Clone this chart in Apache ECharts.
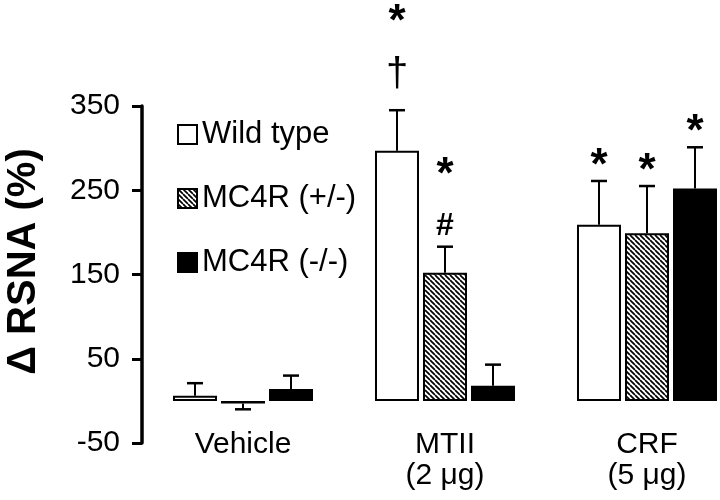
<!DOCTYPE html>
<html>
<head>
<meta charset="utf-8">
<script src="https://cdn.jsdelivr.net/npm/echarts@6/dist/echarts.min.js"></script>
<style>html,body{margin:0;padding:0;background:#fff;}#c{width:720px;height:500px;}</style>
</head>
<body>
<div id="c"></div>
<script>
var categories = ['Vehicle', 'MTII\n(2 μg)', 'CRF\n(5 μg)'];
var seriesNames = ['Wild type', 'MC4R (+/-)', 'MC4R (-/-)'];
var wildType = [6, 297, 209];
var wildTypeErr = [21, 345, 261];
var het = [-3, 152, 199];
var hetErr = [-10, 183, 255];
var ko = [14, 18, 252];
var koErr = [30, 43, 301];
// annotation symbols, listed from nearest the error bar upward
var wildTypeMarks = [[], ['†', '*'], ['*']];
var hetMarks = [[], ['#', '*'], ['*']];
var koMarks = [[], [], ['*']];
var yTicks = [-50, 50, 150, 250, 350];

function hatch() {
  var n = 5;
  var cv = document.createElement('canvas');
  cv.width = n; cv.height = n;
  var ctx = cv.getContext('2d');
  ctx.fillStyle = '#fff';
  ctx.fillRect(0, 0, n, n);
  ctx.strokeStyle = '#000';
  ctx.lineWidth = 1.7;
  [-n, 0, n].forEach(function (o) {
    ctx.beginPath();
    ctx.moveTo(o, 0);
    ctx.lineTo(o + n, n);
    ctx.stroke();
  });
  return cv;
}

var chart = echarts.init(document.getElementById('c'), null, {renderer: 'canvas'});
var FONT = '"Liberation Sans", Arial, sans-serif';
var barW = 44, step = 48;
// visual style of annotation glyphs: first gap above error cap, font, glyph centring correction
var markStyle = {
  '*': {gap: 22, font: 'bold 44px ' + FONT, dy: 8},
  '†': {gap: 40, font: '40px ' + FONT, dy: 5},
  '#': {gap: 24, font: 'bold 32px ' + FONT, dy: 3}
};

function errSeries(idx, means, errs, marks) {
  var data = means.map(function (m, i) { return [i, m, errs[i]]; });
  return {
    type: 'custom',
    name: seriesNames[idx] + ' err',
    silent: true,
    z: 5,
    data: data,
    renderItem: function (params, api) {
      var i = api.value(0);
      var base = api.coord([i, api.value(1)]);
      var top = api.coord([i, api.value(2)]);
      var x = base[0] + (idx - 1) * step;
      var children = [
        {type: 'line', shape: {x1: x, y1: base[1], x2: x, y2: top[1]}, style: {stroke: '#000', lineWidth: 2}},
        {type: 'line', shape: {x1: x - 8, y1: top[1], x2: x + 8, y2: top[1]}, style: {stroke: '#000', lineWidth: 2.5}}
      ];
      var mk = marks[i] || [];
      var first = mk.length ? markStyle[mk[0]].gap : 0;
      mk.forEach(function (s, k) {
        var st = markStyle[s];
        children.push({
          type: 'text',
          x: x,
          y: top[1] - first - k * 55 + st.dy,
          style: {text: s, fill: '#000', align: 'center', verticalAlign: 'middle', font: st.font}
        });
      });
      return {type: 'group', children: children};
    }
  };
}

var borderStyle = {borderColor: '#000', borderWidth: 2};
var option = {
  animation: false,
  backgroundColor: '#fff',
  grid: {left: 142, top: 106, bottom: 57, right: -28, containLabel: false, outerBoundsMode: 'none'},
  legend: {
    data: seriesNames,
    orient: 'vertical',
    left: 172,
    top: 114,
    icon: 'rect',
    itemWidth: 19,
    itemHeight: 19,
    itemGap: 33,
    textStyle: {fontSize: 31, fontFamily: FONT, color: '#000', padding: [0, 0, 0, 0]},
    selectedMode: false
  },
  xAxis: {
    type: 'category',
    data: categories,
    axisLine: {show: false},
    axisTick: {show: false},
    axisLabel: {margin: -14, fontSize: 30, lineHeight: 31, fontFamily: FONT, color: '#000', verticalAlign: 'top'}
  },
  yAxis: {
    type: 'value',
    min: -50, max: 350, interval: 100,
    name: 'Δ RSNA (%)',
    nameLocation: 'middle',
    nameGap: 98,
    nameTextStyle: {fontSize: 40, fontWeight: 'bold', fontFamily: FONT, color: '#000', padding: [0, 0, 0, 26]},
    splitLine: {show: false},
    axisLine: {show: true, lineStyle: {color: '#000', width: 3.5}},
    axisTick: {show: true, length: 10, lineStyle: {color: '#000', width: 3}},
    axisLabel: {
      margin: 22, fontSize: 30, fontFamily: FONT, color: '#000',
      formatter: function (v) { return yTicks.indexOf(v) >= 0 ? String(v) : ''; }
    }
  },
  series: [
    {name: seriesNames[0], type: 'bar', data: wildType, barWidth: barW, barGap: '9.1%',
      itemStyle: Object.assign({color: '#fff'}, borderStyle)},
    {name: seriesNames[1], type: 'bar', data: het, barWidth: barW, barGap: '9.1%',
      itemStyle: Object.assign({color: {image: hatch(), repeat: 'repeat'}}, borderStyle)},
    {name: seriesNames[2], type: 'bar', data: ko, barWidth: barW, barGap: '9.1%',
      itemStyle: Object.assign({color: '#000'}, borderStyle)},
    errSeries(0, wildType, wildTypeErr, wildTypeMarks),
    errSeries(1, het, hetErr, hetMarks),
    errSeries(2, ko, koErr, koMarks)
  ]
};
chart.setOption(option);
</script>
</body>
</html>
